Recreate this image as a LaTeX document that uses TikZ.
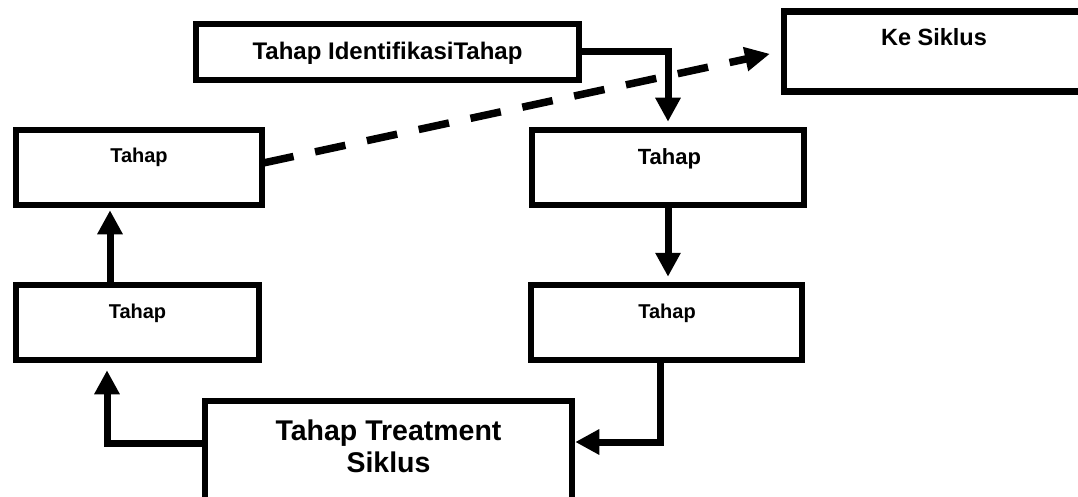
\documentclass[tikz,border=0pt]{standalone}
\usepackage{fontspec}
\setmainfont{Liberation Sans}
\usetikzlibrary{arrows.meta,calc}
\begin{document}
\begin{tikzpicture}[x=1pt,y=-1pt,
  box/.style={draw, line width=6.5pt, rectangle, inner sep=0pt},
  lbl/.style={anchor=base, inner sep=0pt, font=\fontsize{#1}{#1}\selectfont\bfseries},
  arr/.style={line width=7pt, -{Triangle[length=24pt,width=24pt]}},
  dasharr/.style={line width=7.5pt, dash pattern=on 31pt off 22pt, -{Triangle[length=25pt,width=23pt]}}
]
\useasboundingbox (0,0) rectangle (1078,497);
% boxes
\node[box, minimum width=383pt, minimum height=56pt] (b1) at (387.5,52) {};
\node[box, minimum width=306pt, minimum height=80pt] (ks) at (937,51.5) {};
\node[box, minimum width=246pt, minimum height=75pt] (lt) at (139,167.5) {};
\node[box, minimum width=272pt, minimum height=75pt] (rt) at (668,167.5) {};
\node[box, minimum width=243pt, minimum height=75pt] (lb) at (137.5,322.5) {};
\node[box, minimum width=271pt, minimum height=75pt] (rb) at (666.5,322.5) {};
\node[box, minimum width=367pt, minimum height=119pt] (tr) at (388.5,460.5) {};
% texts
\node[lbl=24] (t1) at (387.5,60) {Tahap IdentifikasiTahap};
\node[lbl=23.5] (tks) at (934,46) {Ke Siklus};
\node[lbl=20] (tlt) at (139,163) {Tahap};
\node[lbl=22] (trt) at (669.5,165) {Tahap};
\node[lbl=20] (tlb) at (137.5,318) {Tahap};
\node[lbl=20] (trb) at (667,318) {Tahap};
\node[lbl=28.5, align=center, font=\fontsize{28.5}{32}\selectfont\bfseries] (ttr) at (388.5,472) {Tahap Treatment\\Siklus};
% connectors
\coordinate (r1) at (660,442);
\coordinate (l1) at (107,443);
\coordinate (l2) at (110,0);
\draw[arr, shorten >=5pt] (b1.east) -| (rt.north);
\draw[arr, shorten >=5pt] (rt.south) -- (rt.south |- rb.north);
\draw[arr] (rb.south -| r1) |- (tr.east |- r1);
\draw[arr, shorten >=7pt] (tr.west |- l1) -| (lb.south -| l1);
\draw[arr, shorten >=2pt] (lb.north -| l2) -- (lt.south -| l2);
\draw[dasharr, shorten >=11pt] ($(lt.east)+(-2,-4.5)$) -- (ks.west);
\end{tikzpicture}
\end{document}
